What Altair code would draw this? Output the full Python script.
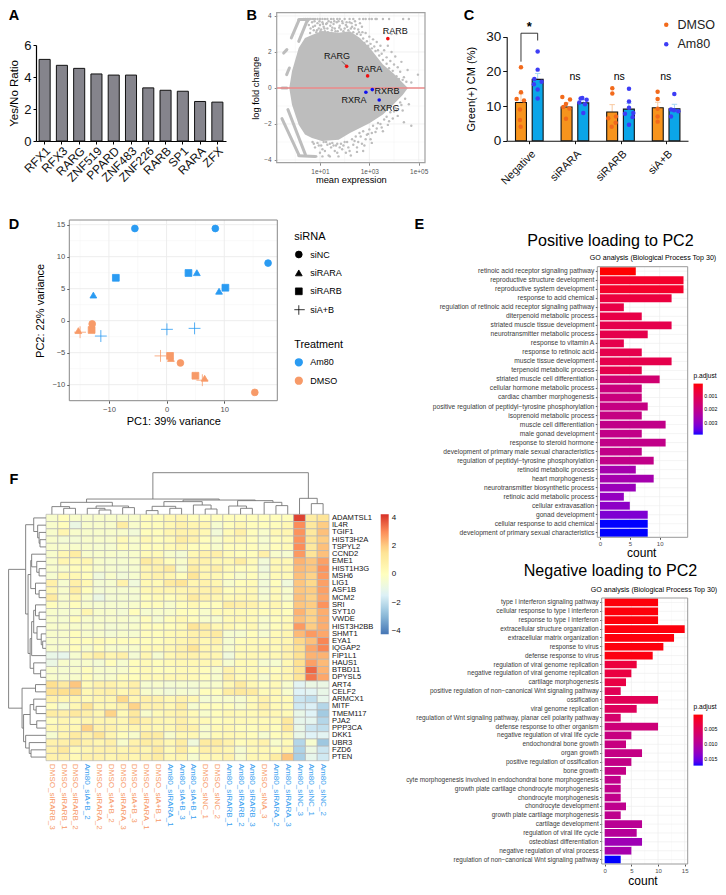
import altair as alt
import pandas as pd

W, H = 710, 879
FONT = "Liberation Sans"

# ---------- panel A ----------
a_tf = ["RFX1","RFX3","RARG","ZNF519","PPARD","ZNF483","ZNF226","RARB","SP1","RARA","ZFX"]
a_ratio = [5.1,4.73,4.54,4.19,4.12,4.12,3.32,3.17,3.11,2.47,2.43]

# ---------- panel B ----------
b_env_lx = [-.243,-.134,.138,.393,.676,1.08,1.757,2.215,2.62,3.02,3.55,3.96,4.36,4.56]
b_env_up = [0,.93,2.22,2.78,2.94,3.17,3.06,3.15,2.78,2.22,1.30,.83,.28,0]
b_env_lo = [0,-.93,-2.04,-2.59,-2.78,-2.94,-2.87,-2.5,-2.22,-1.94,-1.48,-.93,-.37,0]
b_top_lx = [.35,.42,.49,.56,.63,.72,.8,.9,1.0,1.1,1.2,1.3,1.45,1.55,1.7,1.8,2.0,2.2,2.35,2.6,2.75,2.85,3.0,3.1,3.25,3.3,3.55,3.8,4.37,4.6]
b_top_lfc = [3.83]*len(b_top_lx)
b_up_lx = [.55,.62,.68,.75,.8,.85,.9,.95,1.0,1.05,1.1,1.15,1.2,1.25,1.3,1.35,1.42,1.48,1.55,1.6,1.68,1.72,1.8,1.85,1.92,2.0,2.05,2.15,2.2,2.3,2.35,2.45,2.5,2.55,2.65,2.7,2.75,2.85,2.9,3.0,3.05,3.15,3.2,3.3,3.35,3.45,3.5,3.6,3.6,3.7,3.75,3.85,3.9,3.9,4.0,4.05,4.1,4.15,4.25,4.3,4.4,4.5,4.55,4.7,4.97,
          .6,.72,.88,1.02,1.18,1.32,1.5,1.63,1.78,1.95,2.1,2.25,2.4,2.58,2.72,.5,.78,.98,1.12,1.28,1.45,1.58,1.75,1.9,2.08,2.28,2.42,2.62,2.8,2.95,3.1,3.25,3.4,3.55,3.7,3.8,3.95,4.1,4.2,4.35]
b_up_lfc = [3.5,3.3,3.65,3.2,3.45,3.1,3.6,3.3,3.5,3.25,3.65,3.4,3.15,3.55,3.3,3.7,3.45,3.2,3.55,3.3,3.65,3.15,3.45,3.25,3.6,3.3,3.5,3.2,3.65,3.4,3.1,3.5,3.0,3.25,2.95,3.4,2.75,3.05,2.6,2.85,2.45,2.7,2.3,2.55,2.1,2.35,1.9,3.05,2.1,1.7,2.35,1.5,3.0,2.0,1.3,1.75,3.0,1.15,.9,1.45,.6,.35,1.0,.3,.74,
           3.05,3.4,3.2,3.15,3.3,3.1,3.35,3.15,3.35,3.15,3.4,3.3,3.3,3.1,3.1,3.7,3.7,3.7,3.55,3.6,3.65,3.7,3.7,3.7,3.65,3.6,3.7,3.6,2.5,2.35,2.2,2.05,1.8,1.55,1.35,1.1,.95,.65,.5,.45]
b_lo_lx = [.7,.8,.9,1.0,1.05,1.15,1.2,1.3,1.35,1.45,1.5,1.6,1.65,1.75,1.85,1.9,2.0,2.05,2.15,2.3,2.35,2.45,2.55,2.6,2.7,2.75,2.9,3.0,3.05,3.15,3.25,3.35,3.5,3.6,3.75,3.85,3.95,4.05,4.15,4.25,4.35,4.45,4.6,4.4,4.7,3.1,2.75,2.8,2.5,
           .75,.95,1.1,1.25,1.4,1.55,1.7,1.8,1.95,2.1,2.2,2.4,2.5,2.65,2.85,2.95,3.1,3.3,3.45,3.55,3.7,3.8,4.0,4.1,4.3,.85,1.1,1.4,1.7,2.25]
b_lo_lfc = [-3.0,-3.3,-3.05,-3.6,-3.2,-3.0,-3.5,-3.15,-3.75,-3.3,-3.05,-3.5,-3.2,-3.8,-3.1,-3.4,-3.0,-3.6,-3.3,-2.85,-3.15,-2.7,-3.0,-2.5,-3.1,-2.4,-2.6,-2.3,-2.85,-2.1,-2.45,-1.95,-2.2,-1.75,-2.05,-1.35,-1.7,-1.1,-1.55,-.8,-1.25,-.6,-.9,-1.9,-2.1,-3.05,-3.5,-3.2,-3.55,
            -3.1,-3.2,-3.4,-3.0,-3.1,-3.2,-3.1,-3.3,-3.2,-3.0,-3.5,-2.95,-3.3,-2.7,-2.85,-2.55,-2.5,-2.25,-2.0,-2.4,-1.6,-1.85,-1.3,-1.25,-.95,-3.8,-3.8,-3.8,-3.6,-3.75]
b_st_x0 = [-.16,.14,-.47,-.35,.14,-.54,-.3,.14,-.54]
b_st_x1 = [.14,.47,-.34,-.24,.54,.14,.41,.81,-.34]
b_st_y0 = [2.78,2.59,1.94,.74,3.8,-1.7,-1.2,-3.76,0]
b_st_y1 = [3.74,3.7,2.13,1.11,3.8,-3.7,-3.7,-3.8,0]
b_gene = ["RARG","RARA","RARB","RXRA","RXRB","RXRG"]
b_gene_lx = [2.08,2.93,3.75,2.86,3.12,3.4]
b_gene_lfc = [1.2,.67,2.74,-.24,-.09,-.67]
b_gene_col = ["#f01010","#f01010","#f01010","#1010f0","#1010f0","#1010f0"]
b_lab_lx = [1.69,3.02,4.05,2.38,3.72,3.70]
b_lab_lfc = [1.76,1.07,3.15,-.65,-.18,-1.09]

# ---------- panel C ----------
c_groups = ["Negative","siRARA","siRARB","siA+B"]
c_gpos = [0,0,1,1,2,2,3,3]
c_trt = ["DMSO","Am80"]*4
c_side = [-.183,.183]*4
c_mean = [11,17.7,9.7,10.9,8.3,9.1,9.5,9.2]
c_top = [13.5,19.4,10.9,11.9,10.4,10.8,11.1,10.5]
c_dm_x = [-.183,-.183,-.278,-.117,-.205,-.205,-.19,.724,.892,.804,.746,.877,.804,1.82,1.82,1.90,1.73,1.893,1.806,2.814,2.814,2.814,2.814,2.814]
c_dm_y = [21.2,14,12,11.6,9,6,4,12.6,11.9,10.6,9.7,9.3,6.3,15.1,13.6,7,6.5,5.2,4,14.1,12,9.2,7,5.5]
c_am_x = [.183,.183,.11,.10,.27,.183,.183,1.126,1.162,1.257,1.096,1.221,1.184,2.186,2.186,2.186,2.098,2.281,2.266,2.186,3.18,3.107,3.173,3.268,3.107]
c_am_y = [25.7,20.5,17.8,16.3,17,14.8,12.2,12.2,12.3,11.8,11,10.5,8,15,11.3,9.5,7.8,8,6.8,4.6,13.5,9,8.8,8.5,7]

# ---------- panel D ----------
d_x = [-5.5,8.45,17.6,-12.7,5.25,9.1,-8.8,3.8,10.2,-11.4,.06,4.85,-12.9,2.4,15.3,-15.3,.75,6.6,-13,.6,5,-15,-1.05,6.2]
d_y = [14.4,14.4,9,4,7.5,4.6,6.7,7.45,5.15,-2.4,-1.35,-1.2,-.5,-6.6,-11.2,-1.55,-5.9,-9,-1.45,-5.5,-8.6,-1.8,-5.5,-9.3]
d_si = (["siNC"]*3+["siRARA"]*3+["siRARB"]*3+["siA+B"]*3)*2
d_tr = ["Am80"]*12+["DMSO"]*12

# ---------- panel E ----------
e1_terms = ["retinoic acid receptor signaling pathway","reproductive structure development","reproductive system development","response to acid chemical","regulation of retinoic acid receptor signaling pathway","diterpenoid metabolic process","striated muscle tissue development","neurotransmitter metabolic process","response to vitamin A","response to retinoic acid","muscle tissue development","terpenoid metabolic process","striated muscle cell differentiation","cellular hormone metabolic process","cardiac chamber morphogenesis","positive regulation of peptidyl\u2212tyrosine phosphorylation","isoprenoid metabolic process","muscle cell differentiation","male gonad development","response to steroid hormone","development of primary male sexual characteristics","regulation of peptidyl\u2212tyrosine phosphorylation","retinoid metabolic process","heart morphogenesis","neurotransmitter biosynthetic process","retinoic acid metabolic process","cellular extravasation","gonad development","cellular response to acid chemical","development of primary sexual characteristics"]
e1_count = [6,14,14,12,4,7,12,8,4,7,12,7,10,7,7,8,7,11,7,11,7,9,6,9,6,4,5,8,8,8]
e1_p = [.00011,.0005,.0005,.0008,.0009,.0009,.001,.001,.001,.001,.001,.001,.0016,.0018,.0018,.0019,.0019,.002,.002,.002,.002,.002,.0026,.0026,.0028,.0029,.003,.0032,.00389,.00389]
e2_terms = ["type I interferon signaling pathway","cellular response to type I interferon","response to type I interferon","extracellular structure organization","extracellular matrix organization","response to virus","defense response to virus","regulation of viral genome replication","negative regulation of viral genome replication","cartilage morphogenesis","positive regulation of non\u2212canonical Wnt signaling pathway","ossification","viral genome replication","regulation of Wnt signaling pathway, planar cell polarity pathway","defense response to other organism","negative regulation of viral life cycle","endochondral bone growth","organ growth","positive regulation of ossification","bone growth","cyte morphogenesis involved in endochondral bone morphogenesis","growth plate cartilage chondrocyte morphogenesis","chondrocyte morphogenesis","chondrocyte development","growth plate cartilage morphogenesis","cartilage development","regulation of viral life cycle","osteoblast differentiation","negative regulation of viral process","regulation of non\u2212canonical Wnt signaling pathway"]
e2_count = [10,10,10,15,13,11,9,6,5,4,3,10,6,3,10,5,4,7,5,4,3,3,3,4,3,7,6,7,5,3]
e2_p = [.0003,.0003,.0003,.0004,.0004,.0004,.0005,.003,.0033,.0035,.0047,.0048,.0052,.0064,.0074,.008,.008,.0083,.0085,.0085,.0088,.0088,.0088,.009,.009,.0095,.0098,.012,.0112,.01725]

# ---------- panel F ----------
f_cols = ["DMSO_siRARB_3","DMSO_siRARB_1","DMSO_siRARB_2","Am80_siA+B_2","DMSO_siRARA_2","DMSO_siA+B_2","DMSO_siRARA_3","DMSO_siA+B_3","DMSO_siRARA_1","DMSO_siA+B_1","Am80_siRARA_1","Am80_siA+B_3","Am80_siA+B_1","DMSO_siNC_1","DMSO_siNC_2","Am80_siRARB_1","Am80_siRARB_2","Am80_siRARB_3","DMSO_siNA_3","Am80_siRARA_2","Am80_siRARA_3","Am80_siNC_3","Am80_siNC_1","Am80_siNC_2"]
f_genes = ["ADAMTSL1","IL4R","TGIF1","HIST3H2A","TSPYL2","CCND2","EME1","HIST1H3G","MSH6","LIG1","ASF1B","MCM2","SRI","SYT10","VWDE","HIST3H2BB","SHMT1","EYA1","IQGAP2","FIP1L1","HAUS1","BTBD11","DPYSL5","ART4","CELF2","ARMCX1","MITF","TMEM117","PJA2","PPP3CA","DKK1","UBR3","FZD6","PTEN"]
f_vals = [
[-.3,.1,-.3,-.3,-.3,-.3,-.3,-.3,.1,.1,.4,.5,.1,.1,.1,.1,.1,.1,.1,.1,.1,4.0,1.0,1.4],
[-.3,.1,-.9,-.3,-.3,-.3,1.0,-.3,.1,.1,.4,.7,.5,.5,-.4,.1,.4,.1,.1,.1,.4,3.0,1.2,2.0],
[-.3,.5,-.3,-.3,-.3,-.3,-.3,-.6,.1,.1,.5,.7,.7,.4,-.6,.3,.8,.1,-.3,.4,.5,2.9,1.2,2.2],
[-.3,-.5,-.5,-.3,-.3,-.3,.3,-.3,.4,.1,.3,1.0,.7,.1,-.3,.3,.4,.1,-.4,.1,.3,2.9,1.4,2.0],
[-.3,-.3,-.3,-.3,-.4,-.4,.1,-.3,.1,.1,.3,.5,.1,.1,-.3,.1,.1,.1,-.3,.1,.3,3.0,1.2,2.2],
[-.3,.4,1.0,-.3,-.3,-.3,-.4,-.3,.3,.3,-.3,-.5,.4,.7,.8,.3,.1,.1,.8,-.3,-.4,2.8,1.4,2.2],
[-.3,.5,.3,.5,-.3,-.4,-.4,-.3,1.1,.7,.1,-.3,.7,.7,.4,.4,1.0,.3,-.6,.4,.4,2.4,2.1,2.7],
[-.3,-.3,.1,.1,-.3,-.4,-.5,-.4,.5,.7,1.1,-.4,1.0,.5,.8,.3,.1,.1,-.7,.4,.4,2.3,2.1,2.9],
[-.4,.4,.4,.1,-.7,-.3,-.6,-.4,.5,.7,.5,.1,1.4,.5,.4,.1,-.3,.1,-.5,.3,.3,2.2,1.9,2.8],
[.8,-.4,.8,.4,-.5,-.4,.7,-.7,.4,.3,1.1,1.4,.5,.7,.5,-.3,.1,.3,-.6,.1,-.7,2.1,1.8,2.7],
[.5,-.3,1.0,.1,-.5,-.4,-.4,-.4,.4,.5,.5,.5,.7,.7,.8,.1,.3,.4,-.5,.3,-.3,2.1,2.0,2.7],
[1.1,-.3,.5,-.3,-.9,-.5,-.4,-.5,.1,.3,.1,.4,1.1,.7,.5,.3,.4,.4,-.4,.3,-.3,2.2,1.9,2.6],
[.1,-.3,.1,-.3,-.4,-.4,-.4,-.3,.1,.1,-.3,.1,.4,.1,.1,1.0,.8,.7,.3,.5,.1,2.1,2.0,2.9],
[-.3,-.4,-.3,.5,-.3,-.3,-.5,.1,-.4,-.3,-.3,.1,.1,-.3,.3,.3,.3,.3,.1,.3,.1,2.4,1.9,2.5],
[-.3,-.4,.1,-.3,-.3,-.3,-.3,-.4,.1,-.4,.1,.4,.1,-.3,-.3,.3,.4,.3,-.3,.1,.3,2.2,1.9,2.5],
[-.3,-.3,-.3,-.3,-.3,-.5,-.4,-.3,.1,.1,.1,.3,1.4,1.0,.4,.4,.1,.4,-.3,.1,.4,2.8,2.0,2.5],
[-.3,-.3,.1,-.3,-.3,-.5,-.3,-.4,.1,.1,.3,.4,.7,.8,1.1,-.4,-.4,.1,-.4,.3,.5,2.3,2.8,2.6],
[-.3,-.3,.1,.1,.3,.1,.1,.1,.1,.1,.3,.5,.8,.4,.7,-.4,.1,.3,.1,.4,.5,1.8,2.2,3.1],
[-.3,-.3,.1,-.3,.1,-.3,-.3,-.3,.3,.3,.4,.7,1.4,.5,.4,-.3,.3,.3,.4,.3,.7,1.6,2.6,3.1],
[-1.0,-1.1,-.4,.5,1.0,.5,.8,-.5,.5,-.4,.4,.7,.7,.5,.5,-.7,.3,.4,.3,.4,.7,1.6,2.4,2.4],
[-.9,-.3,-.4,-.3,-.5,.1,-.4,.1,.3,.1,.3,.4,.4,.4,.4,-.4,.3,.3,-.4,-.4,.4,1.6,2.7,2.3],
[-.3,-.4,-.3,.1,-.3,-.3,-.3,.1,.3,.1,.1,.3,.3,.1,-.3,.7,.3,.3,.1,.1,.5,1.4,3.5,2.4],
[-.3,-.4,-.3,.1,-.3,-.3,.1,.1,.3,.3,.4,.4,.3,.1,-.3,.8,.3,.3,-.4,.3,.5,1.4,3.3,2.6],
[1.7,1.1,2.1,.3,.7,.7,.4,.8,-.4,-.3,-.5,-.4,-.5,-.3,-.3,.4,1.1,.4,.1,.3,-.3,-1.3,-.9,-.9],
[1.6,1.7,1.8,.4,.7,.8,.4,.8,-.3,-.4,-.6,-.4,-.5,.1,.1,1.0,1.2,1.1,.3,.4,-.3,-1.4,-1.3,-1.0],
[.7,.5,.5,.3,.5,.5,1.8,.5,.8,.7,.4,.7,.4,-.5,-.3,-.3,-.4,.3,.7,.3,.3,-1.8,-2.0,-1.1],
[.1,-.5,.4,1.5,.4,.4,.7,1.9,.7,.7,.4,1.0,-.4,.1,.1,.1,-.3,.3,.8,.3,.3,-1.7,-1.5,-2.2],
[1.0,.8,1.2,.8,.5,1.9,.3,1.2,-.3,.3,.5,.7,.3,-.3,.1,.4,.3,.3,.5,.4,.3,-1.0,-1.4,-2.5],
[.1,.5,.3,.5,.5,.5,.4,1.2,.7,.5,.4,.8,.4,.3,.1,.3,.3,.3,.3,.3,1.2,-1.1,-1.2,-2.2],
[.4,.5,.4,1.9,.7,.7,.4,.5,.5,.4,.4,.8,.7,-.3,.3,.4,.1,.1,.4,.1,1.2,-1.0,-1.8,-2.0],
[-.4,.5,1.1,.7,1.4,.5,.1,-.3,1.0,1.0,-.3,.4,.4,-.3,.3,.4,.3,.1,-.4,.1,.4,-1.0,-1.4,-1.3],
[.7,.8,1.1,.7,.5,.8,-.3,.7,1.0,.8,.4,1.0,-.7,1.1,1.1,.7,.1,.4,.7,-.3,.3,-2.2,-.4,-2.6],
[.7,1.2,.3,.5,.7,.7,.5,.8,.5,1.1,.3,1.0,.1,.8,.7,.5,-.4,.3,.4,.1,.5,-2.3,-.9,-1.8],
[.7,.7,.3,.7,.7,.5,.7,.5,.7,1.0,.4,.5,-.4,.4,.4,.7,-.3,.4,.4,1.0,2.1,-2.4,-1.1,-1.7],
]
f_col_tree = (41.7,
  (15.3,
    (12,(7.7,0,(6,1,2)),(8.3,(6,3,(4.3,4,5)),(6.7,6,7))),
    (14.3,
      (12.7,(8,(3.7,8,9),(6,10,11)),(9.3,12,(5.3,13,14))),
      (13.7,(8.3,15,(6,16,17)),(12,18,(8.7,19,20))))),
  (16,21,(10.7,22,23)))
f_row_tree = (41.7,
  (22.7,
    (13.7,0,(9.3,1,(7.7,2,(6.7,3,4)))),
    (20,
      (17,(16,5,(10.3,6,(7.7,7,8))),(11.7,9,(7.7,10,11))),
      (17.7,(16,(13.7,(11.7,12,(7.7,13,14)),(10,15,(5.3,16,(3.7,17,18)))),19),(13.7,20,(6,21,22))))),
  (26.7,
    (11.7,23,24),
    (25,
      (17.7,(13.7,25,(11,26,27)),(10.3,28,29)),
      (22.7,30,(18.7,31,(16.7,32,33))))))


def walk(t, segs):
    """Flatten a nested (height, left, right) tree into (leaf position, height) segments."""
    if isinstance(t, int):
        return t + .5, 0
    h, a, b = t
    pa, ha = walk(a, segs)
    pb, hb = walk(b, segs)
    segs += [(pa, pa, ha, h), (pb, pb, hb, h), (pa, pb, h, h)]
    return (pa + pb) / 2, h


def rng(a, b):
    return [a - 8, b - 8]


def lin(domain, r):
    return alt.Scale(domain=domain, range=r, nice=False, zero=False)


def xax(ypx, **k):
    k.setdefault("grid", False)
    return alt.Axis(orient="bottom", offset=(ypx - 8) - H, **k)


def yax(xpx, **k):
    k.setdefault("grid", False)
    return alt.Axis(orient="left", offset=-(xpx - 8), **k)


def Q(f, sc, ax=None, ch=alt.X):
    return ch(f + ":Q", scale=sc, axis=ax, title=None) if ax is not None else ch(f + ":Q", scale=sc, axis=None, title=None)


def vrules(vals, xs, ys, lo, hi, color, w=.6):
    df = pd.DataFrame({"v": vals, "a": [lo] * len(vals), "b": [hi] * len(vals)})
    return alt.Chart(df).mark_rule(color=color, strokeWidth=w).encode(
        x=Q("v", xs), y=Q("a", ys, ch=alt.Y), y2="b:Q")


def hrules(vals, xs, ys, lo, hi, color, w=.6):
    df = pd.DataFrame({"v": vals, "a": [lo] * len(vals), "b": [hi] * len(vals)})
    return alt.Chart(df).mark_rule(color=color, strokeWidth=w).encode(
        y=Q("v", ys, ch=alt.Y), x=Q("a", xs), x2="b:Q")


def frame(dx, dy, xs, ys, color, w=1.0):
    df = pd.DataFrame({"x0": [dx[0]], "x1": [dx[1]], "y0": [dy[0]], "y1": [dy[1]]})
    return alt.Chart(df).mark_rect(fillOpacity=0, stroke=color, strokeWidth=w).encode(
        x=Q("x0", xs), x2="x1:Q", y=Q("y0", ys, ch=alt.Y), y2="y1:Q")


def label(t, xpx, ypx, size, color="black", weight="normal", angle=0, align="center"):
    df = pd.DataFrame({"t": [t]})
    return alt.Chart(df).mark_text(fontSize=size, color=color, fontWeight=weight, angle=angle, align=align,
                                   baseline="middle", font=FONT).encode(
        text="t:N", x=alt.value(xpx - 8), y=alt.value(ypx - 8))


layers = []
# ===== letters =====
for t, x, y in [("A", 14, 16), ("B", 251.7, 16), ("C", 469, 16), ("D", 14, 225), ("E", 419.3, 225), ("F", 14, 480)]:
    layers.append(label(t, x, y, 14.5, weight="bold"))

# ===== A =====
ax_s = alt.Scale(type="band", domain=a_tf, range=rng(36, 226), paddingInner=.36, paddingOuter=.18)
ay_s = lin([0, 6], rng(141, 45))
layers.append(alt.Chart(pd.DataFrame({"tf": a_tf, "r": a_ratio})).mark_bar(fill="#85848c", stroke="#111111", strokeWidth=1.0).encode(
    x=alt.X("tf:N", scale=ax_s, sort=None, title=None,
            axis=xax(141, labelAngle=-45, labelAlign="right", labelBaseline="top", labelFontSize=12, labelColor="#111111", domainColor="black",
                     tickColor="black", domainWidth=1.2, tickSize=3, labelPadding=1, labelOverlap=False)),
    y=alt.Y("r:Q", scale=ay_s, title="Yes/No Ratio",
            axis=yax(36, values=[0, 2, 4, 6], labelFontSize=13, titleFontSize=11.5, titleFontWeight="normal", labelColor="#111111",
                     domainColor="black", tickColor="black", domainWidth=1.2, tickSize=3, titlePadding=4))))

# ===== B =====
bx = lin([-.753, 5.255], rng(276.7, 425))
by = lin([-4.15, 4.18], rng(162.7, 12.7))
BG = "#bdbdbd"
layers.append(vrules([0, 2, 4], bx, by, -4.15, 4.18, "#f3f3f3", .5))
layers.append(vrules([1, 3, 5], bx, by, -4.15, 4.18, "#ebebeb", .7))
layers.append(hrules([-3, -1, 1, 3], bx, by, -.753, 5.255, "#f3f3f3", .5))
layers.append(hrules([-4, -2, 0, 2, 4], bx, by, -.753, 5.255, "#ebebeb", .7))
layers.append(alt.Chart(pd.DataFrame({"lx": b_env_lx, "u": b_env_up, "l": b_env_lo})).mark_area(color=BG).encode(
    x=alt.X("lx:Q", scale=bx, title="mean expression",
            axis=xax(162.7, values=[1, 3, 5], labelExpr="'1e+0' + datum.value", labelFontSize=6.5, labelColor="#555555",
                     titleFontSize=9.3, titleFontWeight="normal", tickColor="#888888", domain=False, tickSize=2.5, labelPadding=3, titlePadding=1)),
    y=alt.Y("u:Q", scale=by, title="log fold change",
            axis=yax(276.7, values=[-4, -2, 0, 2, 4], labelFontSize=6.5, labelColor="#555555", titleFontSize=9.3, titleFontWeight="normal",
                     tickColor="#888888", domain=False, tickSize=2.5, labelPadding=3, titlePadding=3)),
    y2="l:Q"))
for xs_, ys_ in [(b_top_lx, b_top_lfc), (b_up_lx, b_up_lfc), (b_lo_lx, b_lo_lfc)]:
    layers.append(alt.Chart(pd.DataFrame({"lx": xs_, "y": ys_})).mark_circle(color=BG, size=6, opacity=1).encode(
        x=Q("lx", bx), y=Q("y", by, ch=alt.Y)))
layers.append(alt.Chart(pd.DataFrame({"a": b_st_x0, "b": b_st_x1, "c": b_st_y0, "d": b_st_y1})).mark_rule(
    color=BG, strokeWidth=3, strokeCap="round").encode(x=Q("a", bx), x2="b:Q", y=Q("c", by, ch=alt.Y), y2="d:Q"))
layers.append(hrules([0], bx, by, -.753, 5.255, "#ec8a8a", 1.5))
layers.append(alt.Chart(pd.DataFrame({"a": [1.89], "b": [2.05], "c": [1.48], "d": [1.26]})).mark_rule(color="#222222", strokeWidth=.6).encode(
    x=Q("a", bx), x2="b:Q", y=Q("c", by, ch=alt.Y), y2="d:Q"))
layers.append(alt.Chart(pd.DataFrame({"lx": b_gene_lx, "y": b_gene_lfc, "c": b_gene_col})).mark_circle(size=13, opacity=1).encode(
    x=Q("lx", bx), y=Q("y", by, ch=alt.Y), color=alt.Color("c:N", scale=None)))
layers.append(alt.Chart(pd.DataFrame({"lx": b_lab_lx, "y": b_lab_lfc, "t": b_gene})).mark_text(fontSize=9, color="#111111", font=FONT).encode(
    x=Q("lx", bx), y=Q("y", by, ch=alt.Y), text="t:N"))
layers.append(frame([-.753, 5.255], [-4.15, 4.18], bx, by, "#a0a0a0", 1.2))

# ===== C =====
cx = lin([-.496, 3.48], rng(506.7, 688))
cy = lin([0, 30], rng(140.7, 36.7))
COL_DMSO, COL_AM = "#f7941d", "#0ba5e8"
cdf = pd.DataFrame({"g": c_gpos, "s": c_side, "t": c_trt, "m": c_mean, "top": c_top})
cdf["x0"] = cdf.g + cdf.s - .12
cdf["x1"] = cdf.g + cdf.s + .12
cdf["xc"] = cdf.g + cdf.s
cdf["cap0"] = cdf.g + cdf.s - .06
cdf["cap1"] = cdf.g + cdf.s + .06
cdf["z"] = 0
cdf["fillc"] = [COL_DMSO if t == "DMSO" else COL_AM for t in c_trt]
cdf["errc"] = ["#f9c9a0" if t == "DMSO" else "#a6d8f5" for t in c_trt]
layers.append(alt.Chart(cdf).mark_rule(strokeWidth=1).encode(
    x=Q("xc", cx), y=Q("m", cy, ch=alt.Y), y2="top:Q", color=alt.Color("errc:N", scale=None)))
layers.append(alt.Chart(cdf).mark_rule(strokeWidth=1).encode(
    x=Q("cap0", cx), x2="cap1:Q", y=Q("top", cy, ch=alt.Y), color=alt.Color("errc:N", scale=None)))
layers.append(alt.Chart(cdf).mark_rect(stroke="#111111", strokeWidth=1.1).encode(
    x=alt.X("x0:Q", scale=cx, title=None,
            axis=xax(140.7, values=[0, 1, 2, 3], labelExpr="['Negative','siRARA','siRARB','siA+B'][datum.value]", labelAngle=-45,
                     labelAlign="right", labelBaseline="top", labelFontSize=11, labelColor="#111111", domainColor="#111111", tickColor="#111111",
                     domainWidth=1.1, tickSize=3, labelPadding=4)),
    x2="x1:Q",
    y=alt.Y("m:Q", scale=cy, title="Green(+) CM (%)",
            axis=yax(506.7, values=[0, 10, 20, 30], labelFontSize=13.5, labelColor="#111111", titleFontSize=11, titleFontWeight="normal",
                     domainColor="#111111", tickColor="#111111", domainWidth=1.1, tickSize=4, titlePadding=9)),
    y2="z:Q",
    color=alt.Color("fillc:N", scale=None)))
cpts = pd.DataFrame({"x": c_dm_x + c_am_x, "y": c_dm_y + c_am_y, "t": ["DMSO"] * len(c_dm_x) + ["Am80"] * len(c_am_x)})
layers.append(alt.Chart(cpts).mark_circle(size=20, opacity=1).encode(
    x=Q("x", cx), y=Q("y", cy, ch=alt.Y),
    color=alt.Color("t:N", scale=alt.Scale(domain=["DMSO", "Am80"], range=["#f26a1b", "#3d3df5"]),
                    legend=alt.Legend(title=None, orient="none", legendX=660 - 8, legendY=18.5 - 8, labelFontSize=12.5, labelColor="#222222",
                                      symbolSize=20, symbolType="circle", rowPadding=6.4, labelOffset=5, symbolOffset=0))))
brk = pd.DataFrame({"a": [-.183, -.183, .183], "b": [-.183, .183, .183], "c": [22.8, 31, 31], "d": [31, 31, 28.9]})
layers.append(alt.Chart(brk).mark_rule(color="#222222", strokeWidth=.9).encode(
    x=Q("a", cx), x2="b:Q", y=Q("c", cy, ch=alt.Y), y2="d:Q"))
layers.append(label("*", 529.3, 27, 13, weight="bold"))
for x in [575, 619.3, 665.7]:
    layers.append(label("ns", x, 77.3, 10.5))

# ===== D =====
dx = lin([-16.87, 19.2], rng(69.3, 277.3))
dy = lin([-12.5, 15.73], rng(400.7, 220))
layers.append(vrules([-15, -5, 5, 15], dx, dy, -12.5, 15.73, "#f2f2f2", .5))
layers.append(hrules([12.5, 7.5, 2.5, -2.5, -7.5, -12.5], dx, dy, -16.87, 19.2, "#f2f2f2", .5))
layers.append(vrules([-10, 0, 10], dx, dy, -12.5, 15.73, "#ebebeb", .9))
layers.append(hrules([15, 10, 5, 0, -5, -10], dx, dy, -16.87, 19.2, "#ebebeb", .9))
tr_s = alt.Scale(domain=["Am80", "DMSO"], range=["#2a9bf2", "#f79a68"])
layers.append(alt.Chart(pd.DataFrame({"x": d_x, "y": d_y, "si": d_si, "tr": d_tr})).mark_point(filled=True, size=46, strokeWidth=.8, opacity=1).encode(
    x=alt.X("x:Q", scale=dx, title="PC1: 39% variance",
            axis=xax(400.7, values=[-10, 0, 10], labelFontSize=7.6, labelColor="#4d4d4d", tickColor="#555555", tickSize=2.5, domain=False,
                     titleFontSize=11, titleFontWeight="normal", labelPadding=2, titlePadding=3)),
    y=alt.Y("y:Q", scale=dy, title="PC2: 22% variance",
            axis=yax(69.3, values=[-10, -5, 0, 5, 10, 15], labelFontSize=7.6, labelColor="#4d4d4d", tickColor="#555555", tickSize=2.5, domain=False,
                     titleFontSize=11, titleFontWeight="normal", labelPadding=2, titlePadding=6)),
    shape=alt.Shape("si:N", scale=alt.Scale(domain=["siNC", "siRARA", "siRARB", "siA+B"],
                                            range=["circle", "triangle-up", "square", "M-1.75,0L1.75,0M0,-1.75L0,1.75"]),
                    legend=alt.Legend(title="siRNA", orient="none", legendX=294.3 - 8, legendY=231 - 8, titleFontSize=11, titleFontWeight="normal",
                                      labelFontSize=9, symbolSize=46, symbolFillColor="black", symbolStrokeColor="black", symbolStrokeWidth=.8,
                                      clipHeight=9, rowPadding=8.4, labelOffset=7, titlePadding=8)),
    color=alt.Color("tr:N", scale=tr_s,
                    legend=alt.Legend(title="Treatment", orient="none", legendX=294.3 - 8, legendY=339 - 8, titleFontSize=10.8, titleFontWeight="normal",
                                      labelFontSize=9, symbolSize=46, symbolType="circle", clipHeight=9, rowPadding=8.4, labelOffset=7, titlePadding=8)),
    stroke=alt.Stroke("tr:N", scale=tr_s, legend=None)))
layers.append(frame([-16.87, 19.2], [-12.5, 15.73], dx, dy, "#888888", 1))


# ===== E =====
def epanel(terms, counts, ps, xd, xr, yr, xvals, pd_dom, pvals, lx, ly, title, tx, ty, sub_x, sub_y, cy_px, ccx, lab_size):
    xs = lin(xd, xr)
    ys = alt.Scale(type="band", domain=terms, range=yr, paddingInner=.13, paddingOuter=.065)
    out = []
    minors = [v + (xvals[1] - xvals[0]) / 2 for v in xvals[:-1]]
    out.append(vrules(minors, xs, lin([0, 1], yr), 0, 1, "#f4f4f4", .5))
    out.append(vrules(xvals, xs, lin([0, 1], yr), 0, 1, "#ececec", .7))
    dfg = pd.DataFrame({"t": terms, "a": [xd[0]] * len(terms), "b": [xd[1]] * len(terms)})
    out.append(alt.Chart(dfg).mark_rule(color="#ececec", strokeWidth=.6).encode(
        y=alt.Y("t:N", scale=ys, axis=None, sort=None, title=None), x=Q("a", xs), x2="b:Q"))
    out.append(alt.Chart(pd.DataFrame({"t": terms, "c": counts, "p": ps})).mark_bar().encode(
        y=alt.Y("t:N", scale=ys, sort=None, title=None,
                axis=yax(xr[0] + 8, labelFontSize=lab_size, labelColor="#3a3a3a", tickColor="#555555", tickSize=2, domain=False,
                         labelLimit=400, labelOverlap=False, labelPadding=1.5)),
        x=alt.X("c:Q", scale=xs, title=None,
                axis=xax(yr[1] + 8, values=xvals, labelFontSize=6, labelColor="#4d4d4d", tickColor="#555555", tickSize=2, domain=False, labelPadding=1.5)),
        color=alt.Color("p:Q", scale=alt.Scale(domain=pd_dom, range=["#0000ff", "#ff0000"], nice=False, interpolate="lab"),
                        legend=alt.Legend(title="p.adjust", orient="none", legendX=lx - 8, legendY=ly - 8, direction="vertical", gradientLength=51,
                                          gradientThickness=9.3, values=pvals, format=".3f", labelFontSize=5.2, titleFontSize=6.6, titleFontWeight="normal",
                                          titlePadding=4, labelOffset=1.5))))
    out.append(frame([0, 1], [0, 1], lin([0, 1], xr), lin([0, 1], yr), "#999999", 1))
    out.append(label(title, tx, ty, 16.1))
    out.append(label("GO analysis (Biological Process Top 30)", sub_x, sub_y, 7.1))
    out.append(label("count", ccx, cy_px, 12))
    return out


layers += epanel(e1_terms, e1_count, e1_p, [-.45, 14.7], rng(597.3, 687.7), rng(266.7, 537.3), [0, 5, 10],
                 [.00389, .00011], [.001, .002, .003], 693.5, 373, "Positive loading to PC2", 610.5, 240.7, 653, 258, 552.7, 641.7, 6.65)
layers += epanel(e2_terms, e2_count, e2_p, [-.56, 15.56], rng(601.7, 687.7), rng(598, 864), [0, 5, 10, 15],
                 [.01725, .00003], [.005, .01, .015], 693.5, 704, "Negative loading to PC2", 610.5, 571, 654, 589.5, 880.5, 643, 6.45)

# ===== F =====
hx = alt.Scale(type="band", domain=f_cols, range=rng(46, 329), paddingInner=0, paddingOuter=0)
hy = alt.Scale(type="band", domain=f_genes, range=rng(514.3, 760.7), paddingInner=0, paddingOuter=0)
hdf = pd.DataFrame([{"c": c, "g": g, "v": v} for g, row in zip(f_genes, f_vals) for c, v in zip(f_cols, row)])
layers.append(alt.Chart(hdf).mark_rect(stroke="#b4b4b4", strokeWidth=.7).encode(
    x=alt.X("c:N", scale=hx, sort=None, title=None,
            axis=xax(760.7, labelAngle=90, labelAlign="left", labelBaseline="middle", labelFontSize=8.1, tickSize=0, domain=False, labelPadding=2.5,
                     labelOverlap=False, labelLimit=200,
                     labelColor={"condition": {"test": "indexof(datum.value,'DMSO')==0", "value": "#f79a68"}, "value": "#3a9ff0"})),
    y=alt.Y("g:N", scale=hy, sort=None, title=None,
            axis=alt.Axis(orient="right", offset=(329 - 8) - W, grid=False, tickSize=0, domain=False, labelFontSize=7.6, labelColor="#111111",
                          labelPadding=2.5, labelOverlap=False, labelLimit=200)),
    color=alt.Color("v:Q", scale=alt.Scale(domain=[-4.25, -2.83, -1.42, 0, 1.7, 3.0, 4.25], interpolate="rgb",
                                           range=["#4575b4", "#91bfdb", "#e0f3f8", "#ffffbf", "#fee090", "#fc8d59", "#d73027"]),
                    legend=alt.Legend(title=None, orient="none", legendX=380.7 - 8, legendY=514.3 - 8, direction="vertical", gradientLength=120,
                                      gradientThickness=8, values=[-4, -2, 0, 2, 4], labelFontSize=8, labelColor="#111111", labelOffset=3))))
col_segs, row_segs = [], []
walk(f_col_tree, col_segs)
walk(f_row_tree, row_segs)
cs = pd.DataFrame(col_segs, columns=["a", "b", "c", "d"])
rs = pd.DataFrame(row_segs, columns=["a", "b", "c", "d"])
tx_ = lin([0, 24], rng(46, 329))
th_ = lin([0, 41.7], rng(514.3, 472.7))
layers.append(alt.Chart(cs).mark_rule(color="#777777", strokeWidth=.9).encode(
    x=Q("a", tx_), x2="b:Q", y=Q("c", th_, ch=alt.Y), y2="d:Q"))
ry_ = lin([0, 34], rng(514.3, 760.7))
rh_ = lin([0, 41.7], rng(46, 8.6))
layers.append(alt.Chart(rs).mark_rule(color="#777777", strokeWidth=.9).encode(
    y=Q("a", ry_, ch=alt.Y), y2="b:Q", x=Q("c", rh_), x2="d:Q"))

chart = alt.layer(*layers).resolve_scale(
    x="independent", y="independent", color="independent", shape="independent", stroke="independent"
).properties(
    width=W, height=H, padding=0,
    autosize=alt.AutoSizeParams(type="none", contains="padding"),
).configure(font=FONT).configure_view(stroke=None).configure_axis(
    labelFont=FONT, titleFont=FONT).configure_legend(labelFont=FONT, titleFont=FONT)

chart.save("out.html", embed_options={"renderer": "svg", "actions": False})
